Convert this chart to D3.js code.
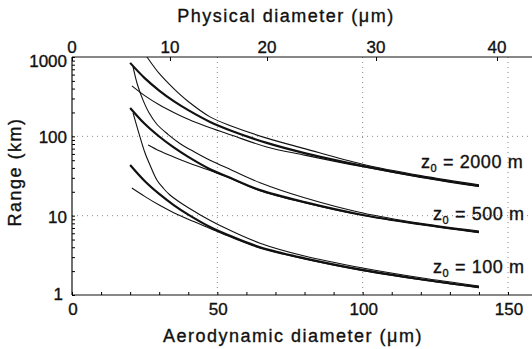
<!DOCTYPE html>
<html lang="en">
<head>
<meta charset="utf-8">
<title>Range vs diameter</title>
<script src="https://d3js.org/d3.v7.min.js"></script>
<style>
	body {margin:0; background:#fff;}
	text {font-family:"Liberation Sans", Arial, Helvetica, sans-serif; fill:#111; stroke:#111; stroke-width:0.35px;}
</style>
</head>
<body>
<div id="chart"></div>
<script>
	// aerodynamic diameter (um) -> range (km)
	const bold2000  = [[20,843],[25,542],[30,378],[35,278],[40,214],[47.5,152],[55,117],[67,82.6],[80,61.5],[100,42.4],[120,30.9],[140,23.7]];
	const lower2000 = [[20.6,432],[25,326],[30,250],[35,200],[40,164],[47.5,128],[55,103],[67,73.5],[80,58],[100,41.3],[120,30.5],[140,23.4]];
	const upper2000 = [[24,1250],[25.8,1000],[30,620],[35,400],[40,275],[47.5,176],[55,134],[67,95],[80,70],[100,44.5],[120,32],[140,24.5]];
	const bold500   = [[20,228],[25,144],[30,99.5],[35,72.4],[40,55],[47.5,38.5],[55,29.4],[64.7,21],[80,14.8],[100,10.2],[120,7.8],[140,6.2]];
	const lower500  = [[26.2,78],[30,66],[35,55],[40,46.5],[47.5,37],[55,29],[64.7,20.6],[80,14.6],[100,10.1],[120,7.75],[140,6.15]];
	const upper500  = [[21,750],[22.5,450],[24.4,288],[26.5,198],[29.2,142],[33,106],[37,82],[42,64],[47.5,50],[55,37.5],[64.7,26],[80,16.8],[100,10.8],[120,8.0],[140,6.4]];
	const bold100   = [[20,43.6],[25,27.4],[30,18.8],[35,13.6],[40,10.3],[47.5,7.2],[55,5.45],[64.7,4.0],[80,2.9],[100,2.07],[120,1.58],[140,1.26]];
	const lower100  = [[20.6,22.3],[25,17.5],[30,13.6],[35,10.9],[40,9.0],[47.5,6.9],[55,5.3],[64.7,3.9],[80,2.85],[100,2.03],[120,1.56],[140,1.24]];
	const upper100  = [[21,197],[23,110],[25.1,62],[27,42],[29.2,28.2],[31.5,22],[33.7,18.2],[38,14],[44,10.3],[52,7.2],[64.7,4.5],[80,3.1],[100,2.19],[120,1.65],[140,1.3]];

	const xTicks = [0, 50, 100, 150];
	const yTicks = [1, 10, 100, 1000];
	const yLabelShift = [5, 7, 7, 10];
	const physTicks = [0, 10, 20, 30, 40];
	const physAtAero = [0, 33.7, 67.1, 104.6, 146.2];
	const zLabels = ["2000", "500", "100"];
	const zLabelRange = [47.5, 10.6, 2.25];

	const width = 532, height = 349;
	const mLeft = 72, mTop = 57, mBottom = 295, mRight = 532;

	const svg = d3.select("#chart").append("svg")
		.attr("width", width).attr("height", height);

	const x = d3.scaleLinear().domain([0, 150]).range([mLeft, 508]);
	const y = d3.scaleLog().domain([1, 1000]).range([mBottom, mTop]);
	const phys = d3.scaleLinear().domain(physTicks).range(physAtAero.map(function (d) { return x(d); }));

	svg.append("clipPath").attr("id", "plotClip")
		.append("rect").attr("x", mLeft).attr("y", mTop)
		.attr("width", mRight - mLeft).attr("height", mBottom - mTop);

	// dotted grid
	const grid = svg.append("g").attr("stroke", "#888").attr("stroke-width", 1)
		.attr("stroke-dasharray", "1,4");
	grid.selectAll("line.v").data(xTicks.slice(1)).enter().append("line")
		.attr("x1", function (d) { return x(d); }).attr("x2", function (d) { return x(d); })
		.attr("y1", mTop).attr("y2", mBottom);
	grid.selectAll("line.h").data([10, 100]).enter().append("line")
		.attr("x1", mLeft).attr("x2", mRight)
		.attr("y1", function (d) { return y(d); }).attr("y2", function (d) { return y(d); });

	// axes
	const axisG = svg.append("g").attr("stroke", "#111").attr("stroke-width", 1.2);
	axisG.append("line").attr("x1", mLeft).attr("x2", mRight).attr("y1", mBottom).attr("y2", mBottom);
	axisG.append("line").attr("x1", mLeft).attr("x2", mRight).attr("y1", mTop).attr("y2", mTop);
	axisG.append("line").attr("x1", mLeft).attr("x2", mLeft).attr("y1", mTop).attr("y2", mBottom);

	svg.append("g").attr("transform", "translate(0," + mBottom + ")")
		.call(d3.axisBottom(x).tickValues(d3.range(0, 160, 10)).tickSize(-3).tickFormat(""))
		.call(function (g) { g.select(".domain").remove(); });
	svg.append("g").attr("transform", "translate(" + mLeft + ",0)")
		.call(d3.axisLeft(y).tickSize(-3).tickFormat(""))
		.call(function (g) { g.select(".domain").remove(); });
	svg.append("g").attr("transform", "translate(0," + mTop + ")")
		.call(d3.axisTop(phys).tickValues(physTicks).tickSize(-4).tickFormat(""))
		.call(function (g) { g.select(".domain").remove(); });

	// tick labels
	svg.selectAll("text.xl").data(xTicks).enter().append("text")
		.attr("x", function (d) { return x(d) + (d === 0 ? 1 : 1); }).attr("y", 315)
		.attr("text-anchor", "middle").style("font-size", "17px").text(function (d) { return d; });
	svg.selectAll("text.yl").data(yTicks).enter().append("text")
		.attr("x", function (d) { return d === 1 ? 63 : 67; })
		.attr("y", function (d, i) { return y(d) + yLabelShift[i]; })
		.attr("text-anchor", "end").style("font-size", "17px").text(function (d) { return d; });
	svg.selectAll("text.pl").data(physTicks).enter().append("text")
		.attr("x", function (d) { return phys(d); }).attr("y", 53)
		.attr("text-anchor", "middle").style("font-size", "17px").text(function (d) { return d; });

	// axis titles
	svg.append("text").attr("x", 293).attr("y", 342).attr("text-anchor", "middle")
		.style("font-size", "18px").style("letter-spacing", "1.5px").text("Aerodynamic diameter (\u03bcm)");
	svg.append("text").attr("x", 286).attr("y", 22).attr("text-anchor", "middle")
		.style("font-size", "18px").style("letter-spacing", "1.5px").text("Physical diameter (\u03bcm)");
	svg.append("text").attr("transform", "translate(21,172) rotate(-90)")
		.attr("text-anchor", "middle").style("font-size", "18px").style("letter-spacing", "1.5px").text("Range (km)");

	// curves
	const line = d3.line()
		.x(function (d) { return x(d[0]); })
		.y(function (d) { return y(d[1]); })
		.curve(d3.curveCatmullRom.alpha(0.5));
	const curves = [
		{pts: bold2000, w: 2.2}, {pts: lower2000, w: 1.1}, {pts: upper2000, w: 1.1},
		{pts: bold500, w: 2.2}, {pts: lower500, w: 1.1}, {pts: upper500, w: 1.1},
		{pts: bold100, w: 2.2}, {pts: lower100, w: 1.1}, {pts: upper100, w: 1.1}
	];
	svg.append("g").attr("clip-path", "url(#plotClip)")
		.selectAll("path").data(curves).enter().append("path")
		.attr("d", function (d) { return line(d.pts); })
		.attr("fill", "none").attr("stroke", "#111")
		.attr("stroke-width", function (d) { return d.w; });

	// z0 labels
	const zl = svg.selectAll("text.zl").data(zLabels).enter().append("text")
		.attr("x", function (d, i) { return i === 0 ? 421 : 433; })
		.attr("y", function (d, i) { return y(zLabelRange[i]) + 6; })
		.style("font-size", "18px").style("letter-spacing", "0.6px");
	zl.append("tspan").text("z");
	zl.append("tspan").attr("dy", 4).style("font-size", "11px").text("0");
	zl.append("tspan").attr("dy", -4).text(function (d) { return " = " + d + " m"; });
</script>
</body>
</html>
